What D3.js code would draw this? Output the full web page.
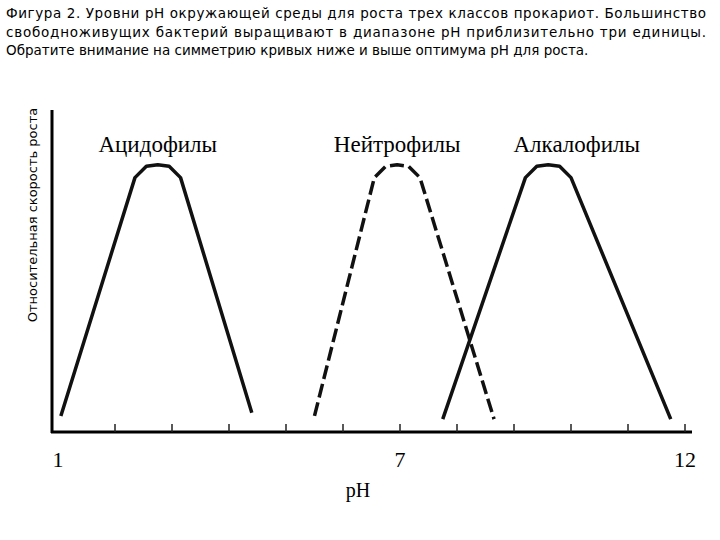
<!DOCTYPE html>
<html>
<head>
<script src="https://d3js.org/d3.v7.min.js"></script>
<style>body{margin:0;background:#fff}</style>
</head>
<body>
<div id="container"></div>
<script>
// Titles
var titleLines = [
	"Фигура 2. Уровни pH окружающей среды для роста трех классов прокариот. Большинство",
	"свободноживущих бактерий выращивают в диапазоне pH приблизительно три единицы.",
	"Обратите внимание на симметрию кривых ниже и выше оптимума pH для роста."
];
var yLabel = "Относительная скорость роста";
var xLabel = "pH";

// Curves (pH, relative rate)
var groups = ["Ацидофилы", "Нейтрофилы", "Алкалофилы"];
var groupLabelX = [2.75, 6.95, 10.1];
var acidophiles = [[1.05,0.05],[2.35,0.79],[2.55,0.825],[2.75,0.83],[2.95,0.825],[3.15,0.79],[4.4,0.06]];
var neutrophiles = [[5.5,0.05],[6.55,0.79],[6.75,0.825],[6.95,0.83],[7.15,0.825],[7.35,0.79],[8.65,0.04]];
var alkalophiles = [[7.75,0.04],[9.2,0.79],[9.4,0.825],[9.6,0.83],[9.8,0.825],[10.0,0.79],[11.75,0.04]];
var curves = [acidophiles, neutrophiles, alkalophiles];
var dashed = [false, true, false];
var tickValues = [1,2,3,4,5,6,7,8,9,10,11,12];
var tickLabels = [1, 7, 12];

var svg = d3.select("#container").append("svg")
	.attr("width", 720).attr("height", 540);

svg.selectAll(".title").data(titleLines).enter().append("text")
	.attr("x", 6).attr("y", function(d, i) { return 18 + i * 18.5; })
	.attr("textLength", function(d, i) { return i < 2 ? 700 : null; })
	.attr("lengthAdjust", "spacing")
	.style("font-family", "DejaVu Sans, sans-serif").style("font-size", "13.5px")
	.text(function(d) { return d; });

var x = d3.scaleLinear().domain([1, 12]).range([58, 685]);
var y = d3.scaleLinear().domain([0, 1]).range([432, 110]);

// axes
svg.append("line").attr("x1", 52).attr("x2", 52).attr("y1", 110).attr("y2", 433)
	.attr("stroke", "#000").attr("stroke-width", 3);
svg.append("line").attr("x1", 51).attr("x2", 692).attr("y1", 432).attr("y2", 432)
	.attr("stroke", "#000").attr("stroke-width", 3);
svg.selectAll(".tick").data(tickValues.slice(1)).enter().append("line")
	.attr("x1", x).attr("x2", x).attr("y1", 424).attr("y2", 432)
	.attr("stroke", "#222").attr("stroke-width", 1.5);
svg.selectAll(".tl").data(tickLabels).enter().append("text")
	.attr("x", x).attr("y", 467).attr("text-anchor", "middle")
	.style("font-family", "Liberation Serif, serif").style("font-size", "22px")
	.text(function(d) { return d; });
svg.append("text").attr("x", x(7) - 42).attr("y", 497).attr("text-anchor", "middle")
	.style("font-family", "Liberation Serif, serif").style("font-size", "20px").text(xLabel);
svg.append("text").attr("transform", "translate(37,215) rotate(-90)")
	.attr("text-anchor", "middle")
	.style("font-family", "DejaVu Sans, sans-serif").style("font-size", "13px").text(yLabel);

var line = d3.line().x(function(d) { return x(d[0]); }).y(function(d) { return y(d[1]); })
	.curve(d3.curveLinear);
svg.selectAll(".curve").data(curves).enter().append("path")
	.attr("d", line).attr("fill", "none").attr("stroke", "#111").attr("stroke-width", 3.5)
	.attr("stroke-linejoin", "round")
	.attr("stroke-dasharray", function(d, i) { return dashed[i] ? "14,5" : null; });

svg.selectAll(".gl").data(groups).enter().append("text")
	.attr("x", function(d, i) { return x(groupLabelX[i]); }).attr("y", 152)
	.attr("text-anchor", "middle")
	.style("font-family", "Liberation Serif, serif").style("font-size", "23px")
	.text(function(d) { return d; });
</script>
</body>
</html>
